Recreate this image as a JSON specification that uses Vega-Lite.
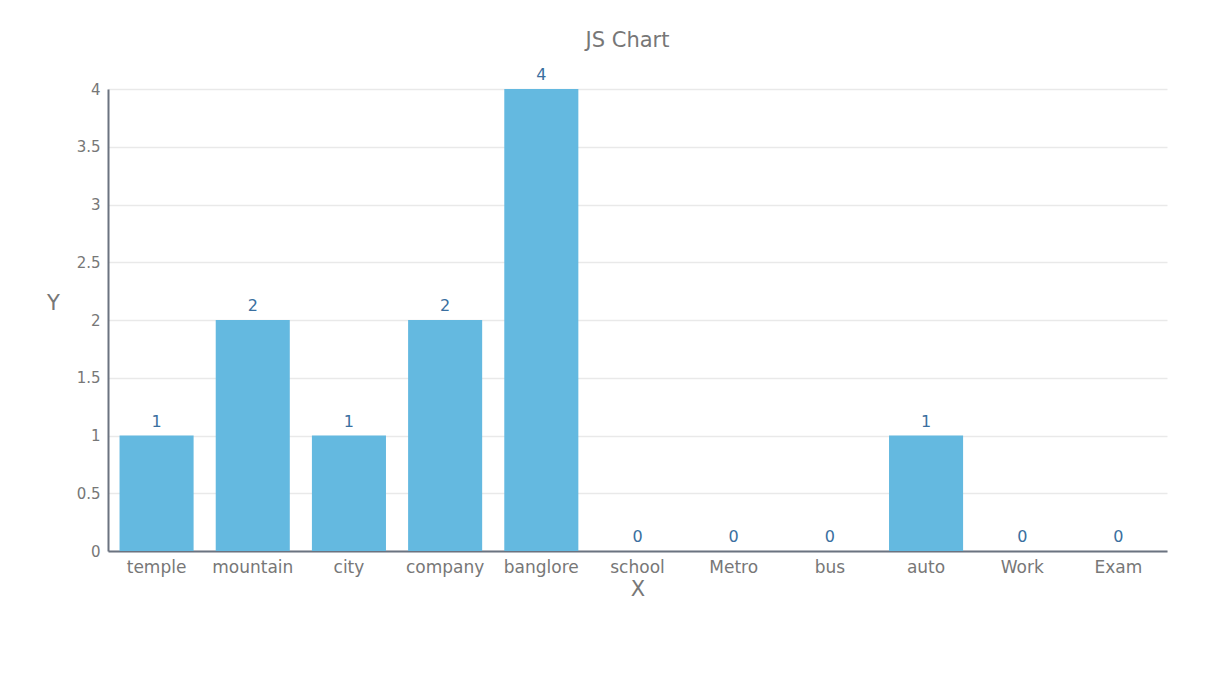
{
  "$schema": "https://vega.github.io/schema/vega-lite/v6.json",
  "width": 1059,
  "height": 462,
  "autosize": {"type": "none"},
  "padding": {"left": 108, "top": 89, "right": 38, "bottom": 123},
  "background": "#ffffff",
  "title": {"text": "JS Chart", "fontSize": 21, "font": "DejaVu Sans", "fontWeight": "normal", "color": "#777777", "anchor": "middle", "offset": 16, "dx": -10},
  "data": {"values": [
    {"category": "temple", "value": 1},
    {"category": "mountain", "value": 2},
    {"category": "city", "value": 1},
    {"category": "company", "value": 2},
    {"category": "banglore", "value": 4},
    {"category": "school", "value": 0},
    {"category": "Metro", "value": 0},
    {"category": "bus", "value": 0},
    {"category": "auto", "value": 1},
    {"category": "Work", "value": 0},
    {"category": "Exam", "value": 0}
  ]},
  "encoding": {
    "x": {"field": "category", "type": "nominal", "sort": null,
      "scale": {"paddingInner": 0.23, "paddingOuter": 0.12},
      "axis": {"title": "X", "titleFontSize": 21, "titleFont": "DejaVu Sans", "titleFontWeight": "normal", "titleColor": "#777777", "titlePadding": 3,
        "labelAngle": 0, "labelFontSize": 17, "labelFont": "DejaVu Sans", "labelColor": "#777777", "labelPadding": 8,
        "ticks": false, "domainColor": "#6b7380", "domainWidth": 2, "grid": false}},
    "y": {"field": "value", "type": "quantitative",
      "scale": {"domain": [0, 4], "nice": false},
      "axis": {"title": "Y", "titleAngle": 0, "titleFontSize": 21, "titleFont": "DejaVu Sans", "titleFontWeight": "normal", "titleColor": "#777777", "titleX": -55, "titleY": 224, "titleAlign": "center",
        "values": [0, 0.5, 1, 1.5, 2, 2.5, 3, 3.5, 4], "format": "~g",
        "labelFontSize": 15, "labelFont": "DejaVu Sans", "labelColor": "#777777", "labelPadding": 8,
        "ticks": false, "domainColor": "#6b7380", "domainWidth": 2,
        "grid": true, "gridColor": "#e9e9e9", "gridWidth": 1.5}}
  },
  "layer": [
    {"mark": {"type": "bar", "color": "#64b9e0"}},
    {"mark": {"type": "text", "baseline": "bottom", "dy": -6, "fontSize": 16, "font": "DejaVu Sans", "color": "#3a6fa0"},
      "encoding": {"text": {"field": "value", "type": "quantitative"}}}
  ],
  "config": {"view": {"stroke": null}}
}
